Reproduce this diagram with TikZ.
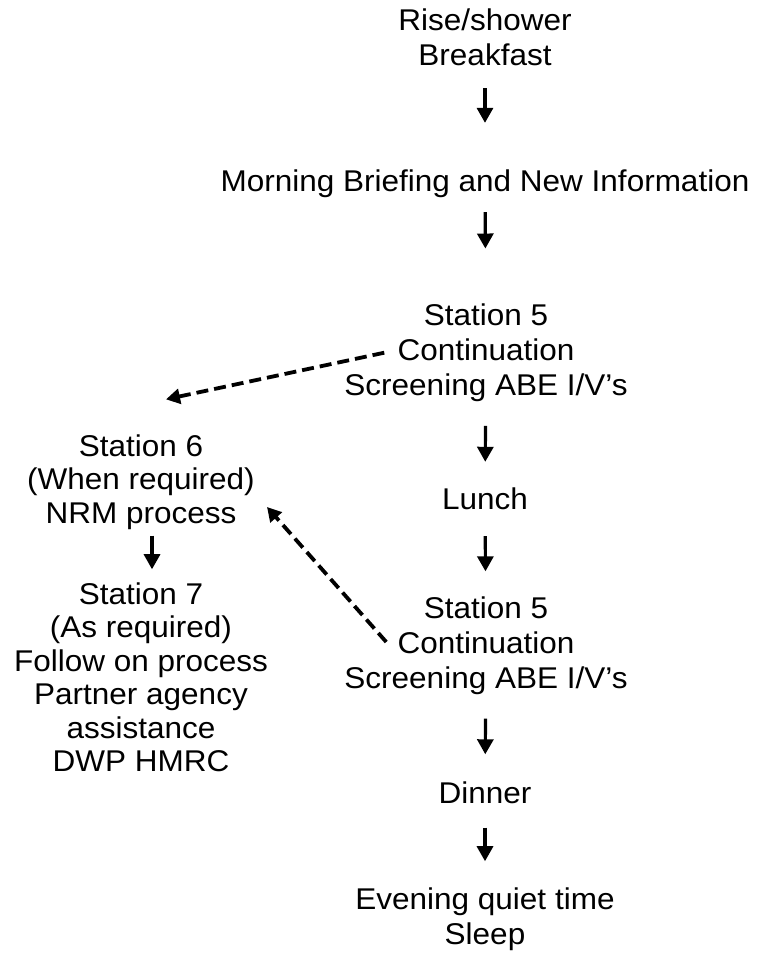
\documentclass[tikz,border=0pt]{standalone}
\usepackage{fontspec}
\setmainfont{Liberation Sans}[FakeStretch=1.05]
\usepackage{tikz}
\usetikzlibrary{arrows.meta}

\tikzset{
    txt/.style={align=center, inner sep=0pt, font=\fontsize{30}{35}\selectfont},
    txtl/.style={txt, font=\fontsize{30}{33.5}\selectfont},
    pfeil/.style={line width=3.2pt, -{Triangle[length=15pt,width=16pt]}},
    strich/.style={line width=3.8pt, dash pattern=on 12pt off 6pt, -{Triangle[length=14pt,width=15pt]}}
}

\begin{document}
\begin{tikzpicture}[x=1pt, y=-1pt]
        \useasboundingbox (0,0) rectangle (757,953);
        % Tagesablauf
        \node[txt] (rise)    at (485, 37.5)  {Rise/shower\\Breakfast};
        \node[txt] (brief)   at (485, 184)   {Morning Briefing and New Information};
        \node[txt] (stfuenfa) at (486, 352.7) {Station 5\\Continuation\\Screening ABE I/V’s};
        \node[txt] (lunch)   at (485, 499)   {Lunch};
        \node[txt] (stfuenfb) at (486, 645.5) {Station 5\\Continuation\\Screening ABE I/V’s};
        \node[txt] (dinner)  at (485, 792.5) {Dinner};
        \node[txt] (evening) at (485, 918.9) {Evening quiet time\\Sleep};
        % Nebenstationen
        \node[txtl] (stsechs)  at (141, 482)   {Station 6\\(When required)\\NRM process};
        \node[txtl] (stsieben) at (141, 677.2) {Station 7\\(As required)\\Follow on process\\Partner agency\\assistance\\DWP HMRC};
        % Pfeile
        \foreach \a/\b/\s/\e in {rise/brief/22pt/47pt, brief/stfuenfa/14pt/55pt,
            stfuenfa/lunch/24pt/26pt, lunch/stfuenfb/26pt/25pt,
            stfuenfb/dinner/24pt/27pt, dinner/evening/24pt/26pt}
        {
            \draw[pfeil, shorten <=\s, shorten >=\e] (\a) -- (\b);
        }
        \draw[pfeil, shorten <=6pt, shorten >=13pt] ([xshift=11pt]stsechs.south) -- ([xshift=11pt]stsieben.north);
        % gestrichelt
        \draw[strich] ([xshift=40pt]stfuenfa.west) -- ([shift={(25,-35)}]stsechs.north);
        \draw[strich] ([shift={(42,-3.5)}]stfuenfb.west) -- ([shift={(12,25)}]stsechs.east);
\end{tikzpicture}
\end{document}
